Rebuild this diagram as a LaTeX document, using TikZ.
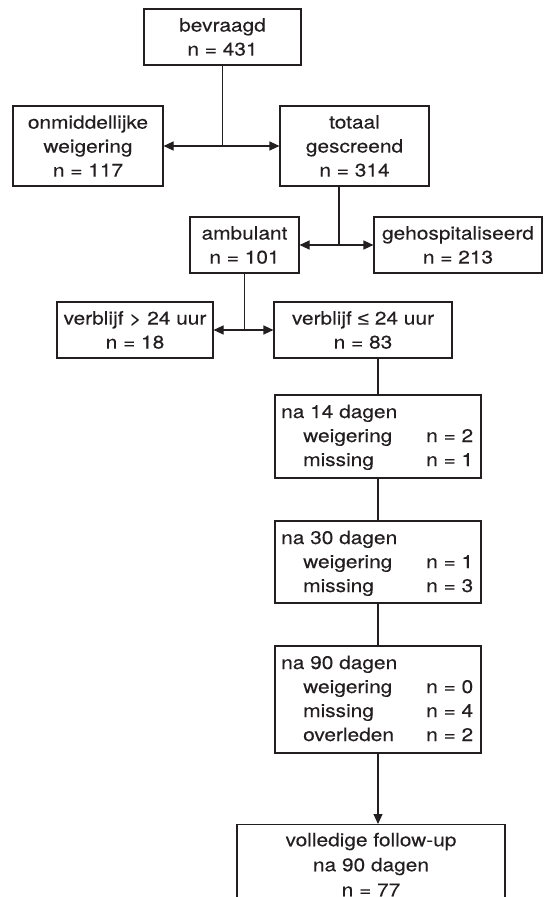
\documentclass[tikz,border=0pt]{standalone}
\usepackage{fontspec}
\setmainfont[FakeStretch=1.14,FakeBold=0.15]{TeX Gyre Heros}
\newfontfamily\symfont[FakeStretch=1.14,FakeBold=0.15]{Liberation Sans}
\usetikzlibrary{arrows.meta}
\definecolor{ink}{HTML}{231F20}
\begin{document}
\begin{tikzpicture}[x=1pt,y=-1pt,
  box/.style={draw=ink,line width=1.1pt,inner sep=0pt,align=center,text=ink,
    font=\fontsize{18.3}{24}\selectfont},
  txt/.style={inner sep=0pt,anchor=base west,text=ink,font=\fontsize{18.3}{24}\selectfont},
  conn/.style={draw=ink,line width=1.1pt},
  arr/.style={conn,-{Triangle[length=10pt,width=9pt]}}]
\useasboundingbox (0,0) rectangle (547,897);
\clip (0,0) rectangle (547,897);
\fill[white] (0,0) rectangle (547,897);

% boxes
\node[box,minimum width=157pt,minimum height=56pt] (bev) at (222.5,37) {bevraagd\\n = 431};
\node[box,minimum width=150pt,minimum height=80pt] (onm) at (88,146) {onmiddellijke\\weigering\\n = 117};
\node[box,minimum width=149pt,minimum height=80pt] (tot) at (354.5,146) {totaal\\gescreend\\n = 314};
\node[box,minimum width=109pt,minimum height=56pt] (amb) at (244.5,245) {ambulant\\n = 101};
\node[box,minimum width=168pt,minimum height=56pt] (geh) at (458,245) {gehospitaliseerd\\n = 213};
\node[box,minimum width=156pt,minimum height=56pt] (vgt) at (135,330) {verblijf > 24 uur\\n = 18};
\node[box,minimum width=178pt,minimum height=56pt] (vle) at (363,330) {verblijf {\symfont ≤} 24 uur\\n = 83};
\node[box,minimum width=206pt,minimum height=83pt] (d14) at (378,436.5) {};
\node[box,minimum width=206pt,minimum height=82pt] (d30) at (378,562) {};
\node[box,minimum width=206pt,minimum height=107pt] (d90) at (378,699.5) {};
\node[box,minimum width=268pt,minimum height=80pt,anchor=north,
  font=\fontsize{18.3}{25}\selectfont] (fin) at (371,824) {volledige follow-up\\na 90 dagen\\n = 77};

% texts of the follow-up boxes
\node[txt] (d14a) at (281,418) {na 14 dagen};
\node[txt] (d14b) at (303,442) {weigering};
\node[txt] (d14c) at (426,442) {n = 2};
\node[txt] (d14d) at (303,466) {missing};
\node[txt] (d14e) at (426,466) {n = 1};

\node[txt] (d30a) at (281,544) {na 30 dagen};
\node[txt] (d30b) at (303,568) {weigering};
\node[txt] (d30c) at (426,568) {n = 1};
\node[txt] (d30d) at (303,592) {missing};
\node[txt] (d30e) at (426,592) {n = 3};

\node[txt] (d90a) at (281,669) {na 90 dagen};
\node[txt] (d90b) at (303,693) {weigering};
\node[txt] (d90c) at (426,693) {n = 0};
\node[txt] (d90d) at (303,717) {missing};
\node[txt] (d90e) at (426,717) {n = 4};
\node[txt] (d90f) at (303,741) {overleden};
\node[txt] (d90g) at (426,741) {n = 2};

% connectors
\coordinate (j1) at (bev.south |- onm.east);
\draw[conn] (bev.south) -- (j1);
\draw[arr] (j1) -- (onm.east);
\draw[arr] (j1) -- (j1 -| tot.west);

\coordinate (j2) at (339,245);
\draw[conn] (tot.south -| j2) -- (j2);
\draw[arr] (j2) -- (amb.east);
\draw[arr] (j2) -- (j2 -| geh.west);

\coordinate (j3) at (amb.south |- vgt.east);
\draw[conn] (amb.south) -- (j3);
\draw[arr] (j3) -- (vgt.east);
\draw[arr] (j3) -- (j3 -| vle.west);

\draw[conn] (d14.north |- vle.south) -- (d14.north);
\draw[conn] (d14.south) -- (d30.north);
\draw[conn] (d30.south) -- (d90.north);
\draw[arr] (d90.south) -- (fin.north -| d90.south);
\end{tikzpicture}
\end{document}
